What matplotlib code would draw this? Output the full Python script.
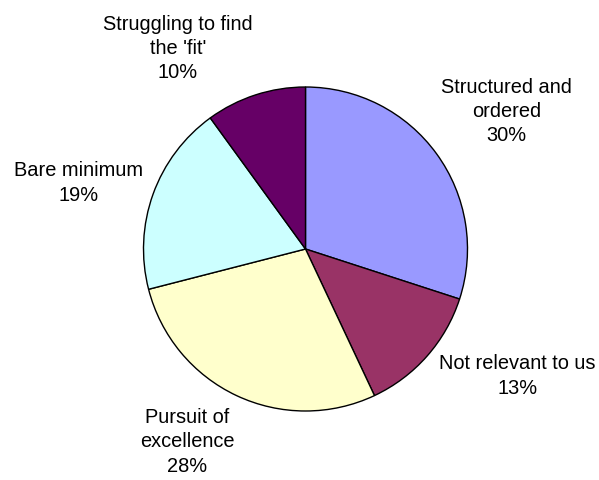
import matplotlib.pyplot as plt

# segment shares (%)
categories = ["Structured and\nordered", "Not relevant to us", "Pursuit of\nexcellence",
              "Bare minimum", "Struggling to find\nthe 'fit'"]
shares = [30, 13, 28, 19, 10]
colors = ["#9999FF", "#993366", "#FFFFCC", "#CCFFFF", "#660066"]

# label centres, in units of the pie radius
label_pos = [(1.242, 0.855), (1.306, -0.778), (-0.731, -1.185),
             (-1.401, 0.414), (-0.787, 1.244)]

plt.rcParams['font.family'] = ['Liberation Sans', 'DejaVu Sans']

fig = plt.figure(figsize=(5.99, 4.81), dpi=100)
cx, cy, r = 305.5, 250, 162
ax = fig.add_axes([(cx - r) / 599, (481 - cy - r) / 481, 2 * r / 599, 2 * r / 481])

ax.pie(shares, colors=colors, startangle=90, counterclock=False, radius=1,
       wedgeprops=dict(edgecolor='black', linewidth=1.0))
ax.set_xlim(-1, 1)
ax.set_ylim(-1, 1)
ax.set_aspect('equal')
ax.axis('off')

for name, val, (x, y) in zip(categories, shares, label_pos):
    ax.text(x, y, f"{name}\n{val}%", ha='center', va='center',
            fontsize=14.4, color='black', linespacing=1.36, clip_on=False)

fig.savefig("out.png", dpi=100)
